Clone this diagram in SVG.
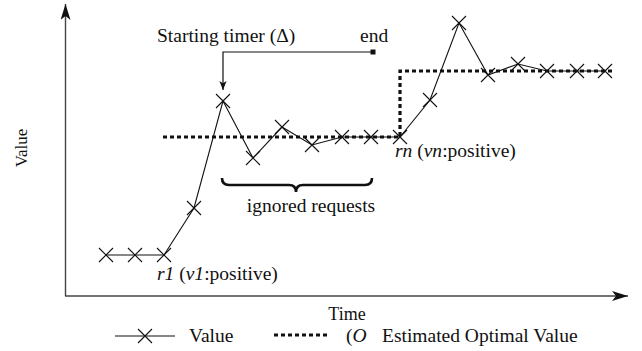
<svg xmlns="http://www.w3.org/2000/svg" width="642" height="351" viewBox="0 0 642 351">
<style>
text{font-family:"Liberation Serif","Times New Roman",serif;font-size:19.5px;fill:#111}
.it{font-style:italic}
.axis{stroke:#444;stroke-width:1.4;fill:none}
.val{stroke:#111;stroke-width:1.1;fill:none}
.mk{stroke:#111;stroke-width:1.1;fill:none}
.opt{stroke:#111;stroke-width:3.2;stroke-dasharray:4 3;fill:none}
.thin{stroke:#111;stroke-width:1.2;fill:none}
</style>
<defs>
<path id="x" d="M-7,-7L7,7M-7,7L7,-7" class="mk"/>
<marker id="ah" viewBox="0 0 16 10" refX="16" refY="5" markerWidth="16" markerHeight="10" markerUnits="userSpaceOnUse" orient="auto">
<path d="M0,0L16,5L0,10L4,5Z" fill="#111"/>
</marker>
<marker id="ahs" viewBox="0 0 10 8" refX="10" refY="4" markerWidth="9" markerHeight="8" markerUnits="userSpaceOnUse" orient="auto">
<path d="M0,0L10,4L0,8L2.5,4Z" fill="#111"/>
</marker>
</defs>
<g id="axes">
<line class="axis" x1="65.5" y1="296" x2="65.5" y2="4" marker-end="url(#ah)"/>
<line class="axis" x1="65" y1="296" x2="628" y2="296" marker-end="url(#ah)"/>
<text x="0" y="0" transform="translate(27,148) rotate(-90)" text-anchor="middle" style="font-size:17px">Value</text>
<text x="347" y="320" text-anchor="middle" style="font-size:18px">Time</text>
</g>
<g id="optimal">
<path class="opt" d="M163,137H400V71H612"/>
</g>
<g id="values">
<polyline class="val" points="106,255 135,255 164,255 194,208 223,101 253,158 282,127 312,145 342,137 371,137 400,137 430,100 459,23 488,75 518,64 547,71 577,71 605,71"/>
<use href="#x" x="106" y="255"/>
<use href="#x" x="135" y="255"/>
<use href="#x" x="164" y="255"/>
<use href="#x" x="194" y="208"/>
<use href="#x" x="223" y="101"/>
<use href="#x" x="253" y="158"/>
<use href="#x" x="282" y="127"/>
<use href="#x" x="312" y="145"/>
<use href="#x" x="342" y="137"/>
<use href="#x" x="371" y="137"/>
<use href="#x" x="400" y="137"/>
<use href="#x" x="430" y="100"/>
<use href="#x" x="459" y="23"/>
<use href="#x" x="488" y="75"/>
<use href="#x" x="518" y="64"/>
<use href="#x" x="547" y="71"/>
<use href="#x" x="577" y="71"/>
<use href="#x" x="605" y="71"/>
</g>
<g id="timer">
<text x="157" y="42">Starting timer (Δ)</text>
<text x="360" y="42">end</text>
<path class="thin" d="M373,52H223V90" marker-end="url(#ahs)"/>
<rect x="370.5" y="49.5" width="5" height="5" fill="#111"/>
</g>
<g id="ignored">
<path d="M222,178Q222,185 229,185H289Q296,185 296,192Q296,185 303,185H365Q372,185 372,178" stroke="#111" stroke-width="2.6" fill="none"/>
<text x="311" y="212" text-anchor="middle">ignored requests</text>
</g>
<g id="labels">
<text x="157" y="280"><tspan class="it">r1</tspan> (<tspan class="it">v1</tspan>:positive)</text>
<text x="395" y="157"><tspan class="it">rn</tspan> (<tspan class="it">vn</tspan>:positive)</text>
</g>
<g id="legend">
<line class="val" x1="115" y1="336" x2="175" y2="336"/>
<use href="#x" x="145" y="336"/>
<text x="189" y="342">Value</text>
<line class="opt" x1="274" y1="335" x2="327" y2="335"/>
<text x="346" y="342">(<tspan class="it">O</tspan></text>
<text x="382" y="342">Estimated Optimal Value</text>
</g>
</svg>
